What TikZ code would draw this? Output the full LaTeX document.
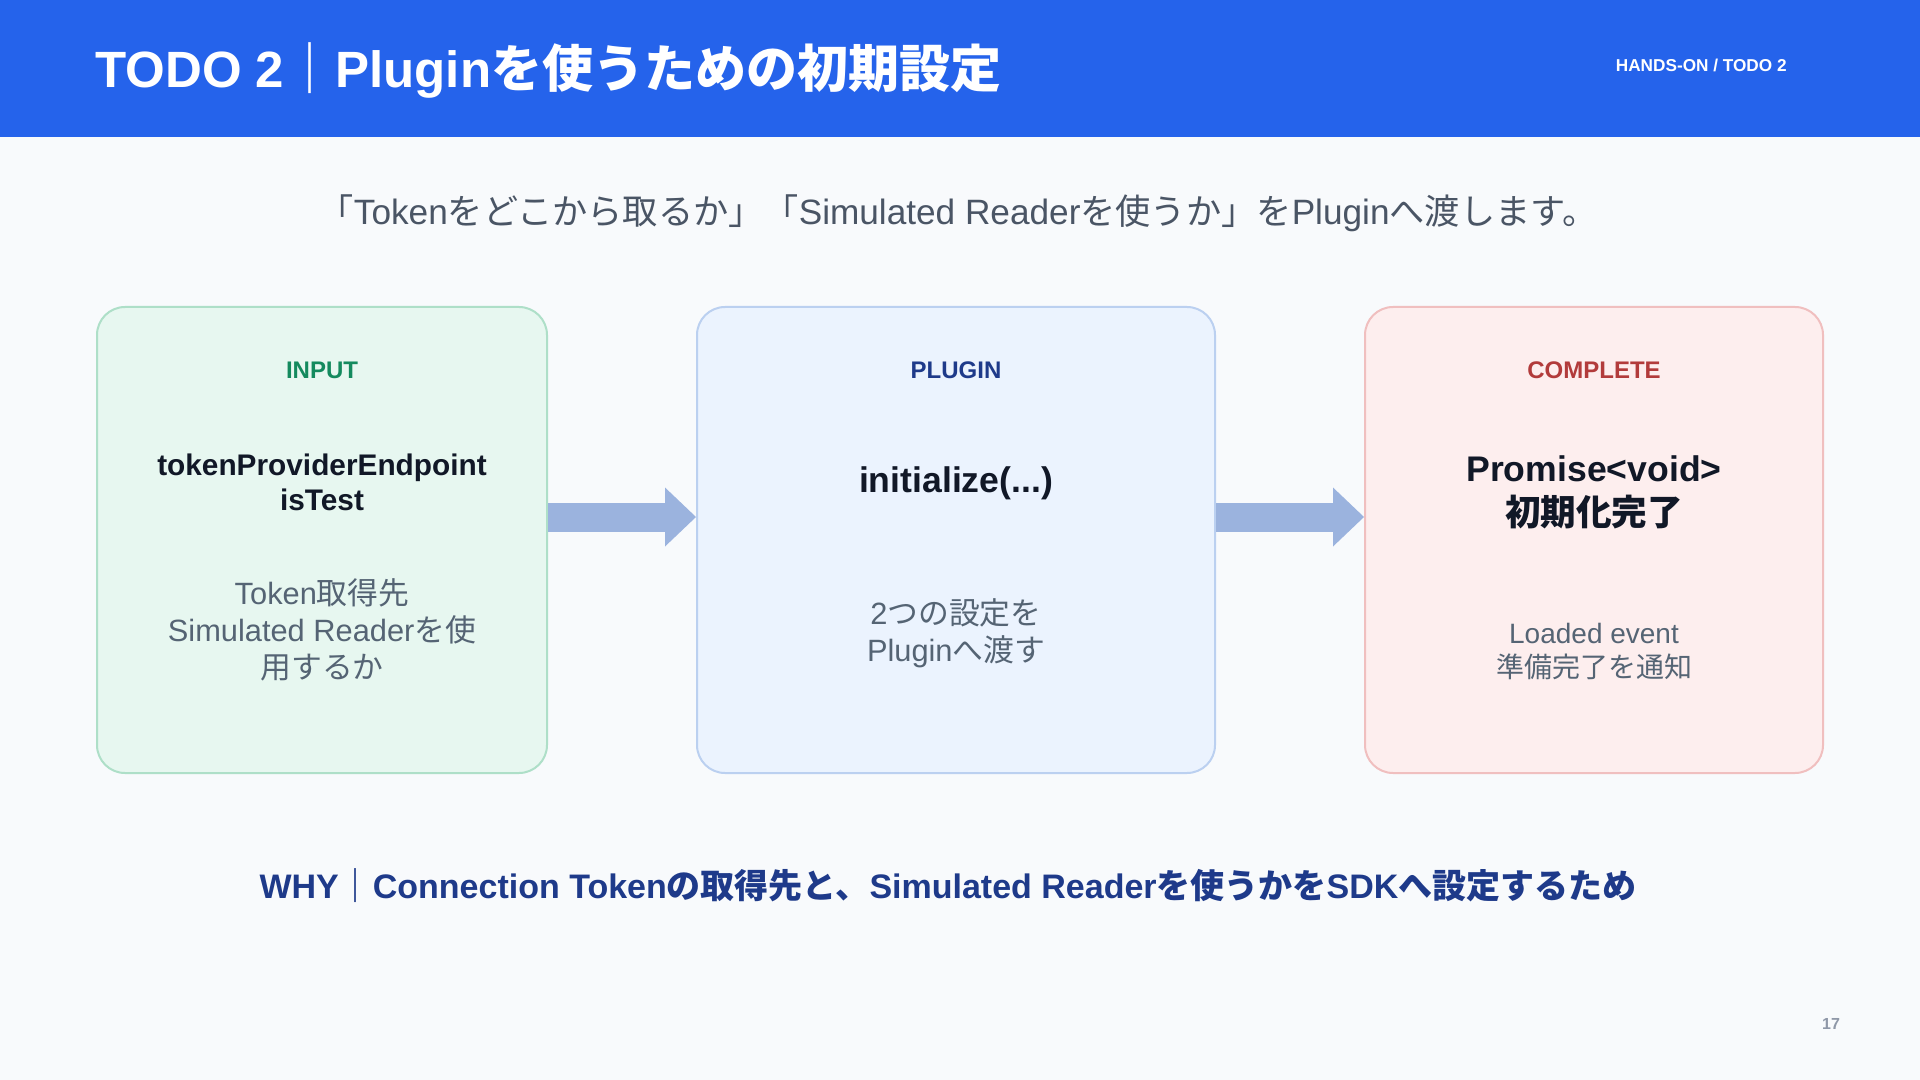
\documentclass[tikz,border=0pt]{standalone}
\usepackage{fontspec}
\setmainfont{Liberation Sans}
\newfontfamily\jpfont{Noto Sans CJK JP}
\newcommand\jp[1]{{\jpfont #1}}
\usetikzlibrary{arrows.meta,positioning}

\definecolor{pagebg}{HTML}{F8FAFC}
\definecolor{headblue}{HTML}{2563EB}
\definecolor{inputfill}{HTML}{E7F7F0}
\definecolor{inputline}{HTML}{AEDFC8}
\definecolor{inputtag}{HTML}{148A5E}
\definecolor{pluginfill}{HTML}{EBF3FE}
\definecolor{pluginline}{HTML}{BBD0F0}
\definecolor{plugintag}{HTML}{1E3A8A}
\definecolor{donefill}{HTML}{FDEEEE}
\definecolor{doneline}{HTML}{F0BFBF}
\definecolor{donetag}{HTML}{B23B3B}
\definecolor{inkdark}{HTML}{111827}
\definecolor{notegray}{HTML}{556474}
\definecolor{subgray}{HTML}{4A5565}
\definecolor{flowblue}{HTML}{9BB3DE}
\definecolor{pagegray}{HTML}{8F98A8}

\tikzset{
  card/.style={draw, rounded corners=14pt, line width=1pt, minimum height=233pt},
  tag/.style={font=\fontsize{12}{14}\selectfont\bfseries},
  headline/.style={align=center, text=inkdark, font=\fontsize{17.8}{22}\selectfont\bfseries},
  note/.style={align=center, text=notegray, font=\fontsize{15.4}{18.5}\selectfont},
  flow/.style={draw=flowblue, line width=14.5pt,
    -{Triangle[length=15.5pt, width=29.5pt, line width'=0pt]}},
}

\begin{document}
\begin{tikzpicture}[x=0.5pt, y=-0.5pt]
\useasboundingbox (0,0) rectangle (1920,1080);
\fill[pagebg] (0,0) rectangle (1920,1080);

% header
\fill[headblue] (0,0) rectangle (1920,137);
\node[anchor=west, inner sep=0, text=white, font=\fontsize{25.5}{30}\selectfont\bfseries]
  (title) at (95,70) {TODO 2\jp{｜}Plugin\jp{を使うための初期設定}};
\node[anchor=east, inner sep=0, text=white, font=\fontsize{8.6}{10}\selectfont\bfseries]
  (section) at (1787,65) {HANDS-ON / TODO 2};

\node[text=subgray, font=\fontsize{17.6}{20}\selectfont] (lead) at (958,213.5)
  {\jp{「}Token\jp{をどこから取るか」「}Simulated Reader\jp{を使うか」を}Plugin\jp{へ渡します。}};

% cards
\node[card, fill=inputfill, draw=inputline, minimum width=225pt] (input) at (322,540) {};
\node[card, fill=pluginfill, draw=pluginline, minimum width=259pt] (plugin) at (956,540) {};
\node[card, fill=donefill, draw=doneline, minimum width=229pt] (done) at (1594,540) {};

\draw[flow] ([yshift=11.5pt]input.east) -- ([yshift=11.5pt]plugin.west);
\draw[flow] ([yshift=11.5pt]plugin.east) -- ([yshift=11.5pt]done.west);

\node[tag, text=inputtag] (inputtag) at (322,370) {INPUT};
\node[tag, text=plugintag] (plugintag) at (956,370) {PLUGIN};
\node[tag, text=donetag] (donetag) at (1594,370) {COMPLETE};

\node[headline, font=\fontsize{14.9}{17.5}\selectfont\bfseries] (inputmain) at (322,482)
  {tokenProviderEndpoint\\isTest};
\node[headline] (pluginmain) at (956,483) {initialize(...)};
\node[headline] (donemain) at (1594,492.5) {Promise<void>\\\jp{初期化完了}};

\node[note] (inputnote) at (322,630)
  {Token\jp{取得先}\\Simulated Reader\jp{を使}\\\jp{用するか}};
\node[note] (pluginnote) at (956,633) {2\jp{つの設定を}\\Plugin\jp{へ渡す}};
\node[note, font=\fontsize{14}{17}\selectfont] (donenote) at (1594,651)
  {Loaded event\\\jp{準備完了を通知}};

% footer
\node[text=plugintag, font=\fontsize{17}{20}\selectfont\bfseries] (why) at (948,886)
  {WHY\jp{｜}Connection Token\jp{の取得先と、}Simulated Reader\jp{を使うかを}SDK\jp{へ設定するため}};
\node[text=pagegray, font=\fontsize{8}{9}\selectfont\bfseries] (page) at (1831,1024) {17};
\end{tikzpicture}
\end{document}
